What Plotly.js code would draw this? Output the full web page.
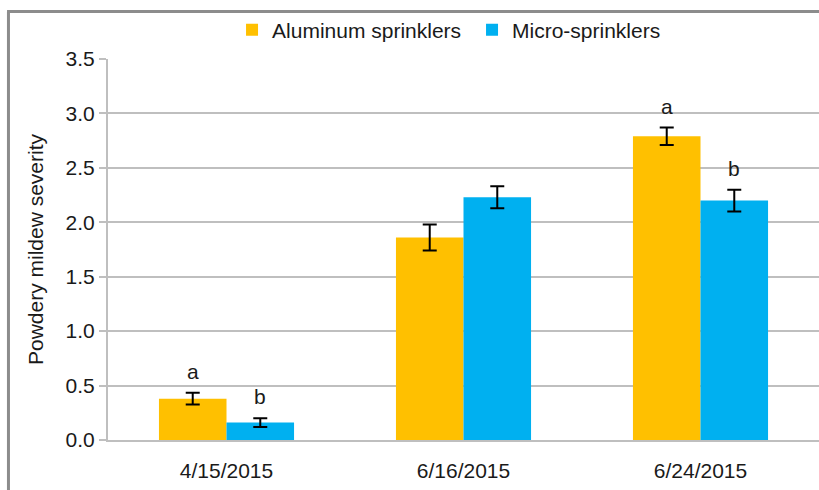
<!DOCTYPE html>
<html>
<head>
<meta charset="utf-8">
<script src="https://cdn.plot.ly/plotly-3.0.1.min.js"></script>
<style>html,body{margin:0;padding:0;background:#fff;overflow:hidden;}#chart{width:819px;height:490px;}</style>
</head>
<body>
<div id="chart"></div>
<script>
const categories = ['4/15/2015', '6/16/2015', '6/24/2015'];
const aluminumValues = [0.38, 1.86, 2.79];
const aluminumErrors = [0.055, 0.12, 0.08];
const microValues = [0.16, 2.23, 2.20];
const microErrors = [0.04, 0.10, 0.10];
const aluminumLetters = ['a', '', 'a'];
const microLetters = ['b', '', 'b'];
const seriesNames = ['Aluminum sprinklers', 'Micro-sprinklers'];
const yTicks = [0, 0.5, 1.0, 1.5, 2.0, 2.5, 3.0, 3.5];

const FONT = '"Liberation Sans", Arial, sans-serif';
const FS = 21;
const bargap = 0.43;
const off = (1 - bargap) / 4;

const traces = [
  {
    type: 'bar', name: seriesNames[0], x: categories, y: aluminumValues,
    marker: {color: '#FFC000'},
    error_y: {type: 'data', array: aluminumErrors, visible: true, color: '#000', thickness: 2, width: 7}
  },
  {
    type: 'bar', name: seriesNames[1], x: categories, y: microValues,
    marker: {color: '#00B0F0'},
    error_y: {type: 'data', array: microErrors, visible: true, color: '#000', thickness: 2, width: 7}
  }
];

const annotations = [];
function addLetters(letters, vals, errs, dx) {
  letters.forEach((t, i) => {
    if (!t) return;
    annotations.push({
      x: i + dx, y: vals[i] + errs[i], xref: 'x', yref: 'y', text: t,
      showarrow: false, yanchor: 'bottom', yshift: 8,
      font: {family: FONT, size: FS, color: '#1a1a1a'}
    });
  });
}
addLetters(aluminumLetters, aluminumValues, aluminumErrors, -off);
addLetters(microLetters, microValues, microErrors, off);

const layout = {
  width: 819, height: 490,
  margin: {l: 108, r: 0, t: 59, b: 50},
  paper_bgcolor: '#fff', plot_bgcolor: '#fff',
  font: {family: FONT, size: FS, color: '#1a1a1a'},
  barmode: 'group', bargap: bargap, bargroupgap: 0,
  showlegend: true,
  legend: {orientation: 'h', x: 0.512, xanchor: 'center', y: 1.076, yanchor: 'middle',
           entrywidth: 195, entrywidthmode: 'pixels', bgcolor: 'rgba(0,0,0,0)',
           font: {family: FONT, size: FS, color: '#1a1a1a'}, traceorder: 'normal'},
  xaxis: {
    type: 'category', range: [-0.5, 2.5], showgrid: false,
    showline: true, linecolor: '#bfbfbf', linewidth: 2,
    ticks: '', ticklabelstandoff: 11,
    tickfont: {family: FONT, size: FS, color: '#1a1a1a'}
  },
  yaxis: {
    range: [0, 3.5], tickvals: yTicks, tickformat: '.1f',
    showgrid: true, gridcolor: '#bfbfbf', gridwidth: 2,
    showline: true, linecolor: '#bfbfbf', linewidth: 2,
    ticks: 'outside', ticklen: 7, tickcolor: '#bfbfbf', tickwidth: 2,
    zeroline: false,
    tickfont: {family: FONT, size: FS, color: '#1a1a1a'},
    title: {text: 'Powdery mildew severity', standoff: 16,
            font: {family: FONT, size: FS, color: '#1a1a1a'}}
  },
  annotations: annotations,
  shapes: [
    {type: 'line', xref: 'paper', yref: 'paper', x0: -0.140, x1: -0.140, y0: -0.5, y1: 1.1247,
     line: {color: '#8c8c8c', width: 3}, layer: 'below'},
    {type: 'line', xref: 'paper', yref: 'paper', x0: -0.142, x1: 1.1, y0: 1.1247, y1: 1.1247,
     line: {color: '#8c8c8c', width: 3}, layer: 'below'}
  ]
};

Plotly.newPlot('chart', traces, layout, {displayModeBar: false, staticPlot: true});
</script>
</body>
</html>
